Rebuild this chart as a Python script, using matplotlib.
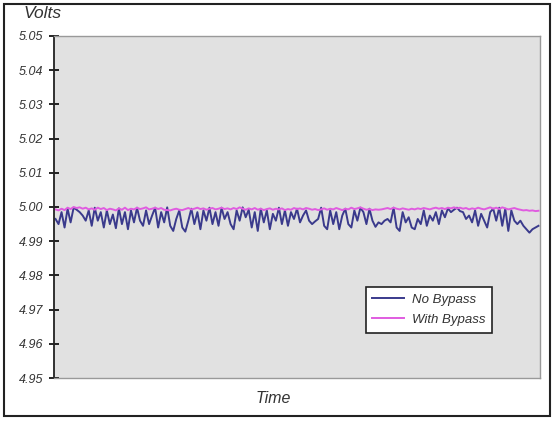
import matplotlib
matplotlib.use("Agg")
import matplotlib.pyplot as plt
from matplotlib.patches import Rectangle

plt.rcParams['font.family'] = ['Liberation Sans', 'DejaVu Sans']

# ripple readings, volts
no_bypass = [
    4.9965, 4.9950, 4.9985, 4.9940, 4.9995, 4.9955, 4.9998, 4.9992, 4.9985, 4.9975,
    4.9960, 4.9990, 4.9945, 4.9998, 4.9960, 4.9985, 4.9940, 4.9990, 4.9950, 4.9978,
    4.9938, 4.9996, 4.9950, 4.9985, 4.9935, 4.9990, 4.9955,
    4.9998, 4.9960, 4.9945, 4.9990, 4.9950, 4.9975, 4.9998, 4.9940, 4.9985, 4.9955,
    4.9999, 4.9945, 4.9930, 4.9965, 4.9990, 4.9940, 4.9928, 4.9960, 4.9995, 4.9950,
    4.9985, 4.9935, 4.9990, 4.9960, 4.9998, 4.9950, 4.9985,
    4.9945, 4.9998, 4.9965, 4.9985, 4.9950, 4.9935, 4.9990, 4.9960, 4.9999, 4.9970,
    4.9992, 4.9940, 4.9985, 4.9930, 4.9995, 4.9955, 4.9990, 4.9935, 4.9980, 4.9960,
    4.9998, 4.9950, 4.9990, 4.9945, 4.9985, 4.9965, 4.9995,
    4.9955, 4.9975, 4.9990, 4.9960, 4.9950, 4.9958, 4.9965, 4.9998, 4.9945, 4.9935,
    4.9990, 4.9950, 4.9985, 4.9935, 4.9975, 4.9995, 4.9950, 4.9940, 4.9990, 4.9960,
    4.9998, 4.9985, 4.9950, 4.9995, 4.9960, 4.9942, 4.9955,
    4.9950, 4.9960, 4.9965, 4.9955, 4.9998, 4.9940, 4.9930, 4.9985, 4.9955, 4.9970,
    4.9940, 4.9935, 4.9965, 4.9950, 4.9990, 4.9945, 4.9975, 4.9960, 4.9985, 4.9950,
    4.9990, 4.9970, 4.9996, 4.9985, 4.9992, 4.9998, 4.9988,
    4.9985, 4.9965, 4.9975, 4.9955, 4.9990, 4.9945, 4.9980, 4.9960, 4.9940, 4.9985,
    4.9995, 4.9960, 4.9998, 4.9945, 4.9995, 4.9930, 4.9990, 4.9960, 4.9950, 4.9960,
    4.9945, 4.9935, 4.9925, 4.9935, 4.9940, 4.9945,
]
with_bypass = [
    4.9993, 4.9990, 4.9995, 4.9991, 4.9998, 4.9994, 5.0000, 4.9997, 4.9999, 4.9995,
    4.9998, 4.9993, 4.9996, 4.9992, 4.9998, 4.9994, 4.9997, 4.9991, 4.9995, 4.9993,
    4.9990, 4.9996, 4.9992, 4.9998, 4.9991, 4.9995, 4.9993,
    4.9998, 4.9994, 4.9996, 4.9999, 4.9993, 4.9995, 4.9998, 4.9994, 4.9997, 4.9992,
    4.9991, 4.9990, 4.9993, 4.9995, 4.9992, 4.9991, 4.9994, 4.9997, 4.9993, 4.9995,
    4.9998, 4.9994, 4.9996, 4.9992, 4.9995, 4.9997, 4.9993,
    4.9995, 4.9998, 4.9994, 4.9996, 4.9993, 4.9997, 4.9994, 4.9999, 4.9995, 4.9992,
    4.9996, 4.9993, 4.9997, 4.9992, 4.9995, 4.9991, 4.9994, 4.9996, 4.9992, 4.9995,
    4.9993, 4.9996, 4.9991, 4.9994, 4.9992, 4.9997, 4.9994,
    4.9996, 4.9993, 4.9997, 4.9995, 4.9992, 4.9994, 4.9991, 4.9993, 4.9996, 4.9992,
    4.9995, 4.9993, 4.9997, 4.9994, 4.9991, 4.9995, 4.9993, 4.9998, 4.9994, 4.9996,
    4.9999, 4.9995, 4.9992, 4.9994, 4.9991, 4.9993, 4.9992,
    4.9993, 4.9995, 4.9997, 4.9994, 4.9998, 4.9995, 4.9993, 4.9996, 4.9994, 4.9992,
    4.9995, 4.9993, 4.9996, 4.9994, 4.9997, 4.9995, 4.9993, 4.9996, 4.9998, 4.9995,
    4.9997, 4.9994, 4.9998, 4.9996, 4.9999, 4.9996, 4.9998,
    4.9995, 4.9997, 4.9993, 4.9996, 4.9994, 4.9998, 4.9995, 4.9993, 4.9996, 4.9999,
    4.9995, 4.9998, 4.9994, 4.9999, 4.9996, 4.9993, 4.9995, 4.9997, 4.9994, 4.9992,
    4.9990, 4.9991, 4.9989, 4.9990, 4.9988, 4.9989,
]
y_ticks = [4.95, 4.96, 4.97, 4.98, 4.99, 5.00, 5.01, 5.02, 5.03, 5.04, 5.05]

fig = plt.figure(figsize=(5.59, 4.23), dpi=100)
fig.patches.append(Rectangle((4 / 559, 7 / 423), 546 / 559, 412 / 423,
                             transform=fig.transFigure, fill=False,
                             edgecolor='#222222', linewidth=1.5))

ax = fig.add_axes([54 / 559, 45 / 423, 486 / 559, 342 / 423])
ax.set_facecolor('#e1e1e1')

x = list(range(len(no_bypass)))
ax.plot(x, no_bypass, color='#3a3a8c', linewidth=1.4, label='No Bypass')
ax.plot(range(len(with_bypass)), with_bypass, color='#e05ce0', linewidth=1.4,
        label='With Bypass')

ax.set_xlim(-0.5, len(no_bypass) - 0.5)
ax.set_ylim(4.95, 5.05)
ax.set_yticks(y_ticks)
ax.set_yticklabels(['%.2f' % v for v in y_ticks], fontsize=9, style='italic',
                   color='#333333')
ax.tick_params(axis='y', direction='inout', length=7, width=1.2, pad=4)
ax.set_xticks([])

for s in ['top', 'right', 'bottom']:
    ax.spines[s].set_color('#999999')
    ax.spines[s].set_linewidth(1.0)
ax.spines['left'].set_color('#222222')
ax.spines['left'].set_linewidth(1.3)

fig.text(24 / 559, 1 - 14 / 423, 'Volts', fontsize=12.5, style='italic',
         color='#333333', va='center', ha='left')
fig.text(273 / 559, 1 - 398 / 423, 'Time', fontsize=11.5, style='italic',
         color='#333333', va='center', ha='center')

leg = ax.legend(loc='upper left', bbox_to_anchor=(0.628, 0.285), fontsize=9.5,
                fancybox=False, framealpha=1, edgecolor='#222222',
                handlelength=2.4, handletextpad=0.6, borderpad=0.5,
                labelspacing=0.6)
leg.get_frame().set_linewidth(1.2)
for t in leg.get_texts():
    t.set_style('italic')
    t.set_color('#333333')

fig.savefig('out.png', dpi=100)
